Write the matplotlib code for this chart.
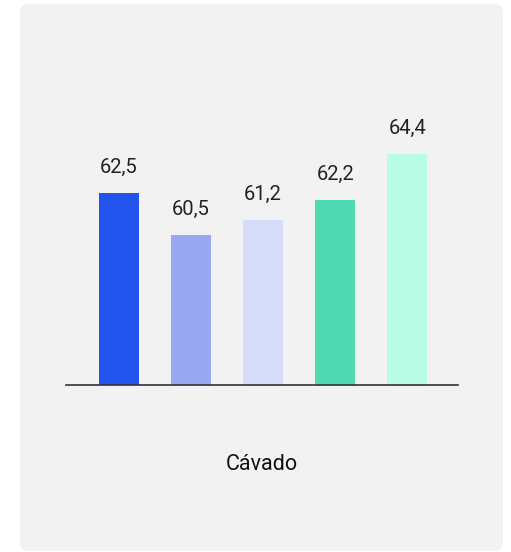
import matplotlib
matplotlib.use("Agg")
import matplotlib.pyplot as plt
from matplotlib.patches import FancyBboxPatch

# Data
region = "Cávado"
series_values = [62.5, 60.5, 61.2, 62.2, 64.4]
bar_colors = ["#2253ec", "#9aa8f4", "#d6ddfa", "#50dab2", "#bafde6"]

plt.rcParams["font.family"] = ["Roboto", "DejaVu Sans"]

fig = plt.figure(figsize=(5.11, 5.52), dpi=100)
fig.patch.set_facecolor("white")

# light gray rounded panel behind everything
panel = FancyBboxPatch((0.26, 0.07), 4.71, 5.35,
                       boxstyle="round,pad=0.06,rounding_size=0.08",
                       transform=fig.dpi_scale_trans,
                       facecolor="#f2f2f2", edgecolor="none", zorder=-1)
fig.patches.append(panel)

ax = fig.add_axes([0.129, 0.3025, 0.767, 0.517])
ax.set_facecolor("none")

x = list(range(len(series_values)))
bars = ax.bar(x, series_values, width=0.555, color=bar_colors, zorder=2)

ax.set_ylim(53.3, 67)
ax.set_xlim(-0.735, 4.70)

for rect, v in zip(bars, series_values):
    ax.annotate(f"{v:.1f}".replace(".", ","),
                (rect.get_x() + rect.get_width() / 2, v),
                xytext=(0, 14.5), textcoords="offset points",
                ha="center", va="baseline", fontsize=14.5, color="#222222")

for side in ["top", "right", "left"]:
    ax.spines[side].set_visible(False)
ax.spines["bottom"].set_color("#333333")
ax.spines["bottom"].set_linewidth(1.2)
ax.spines["bottom"].set_zorder(3)
ax.set_xticks([])
ax.set_yticks([])

fig.text(0.513, 0.158, region, ha="center", va="center",
         fontsize=15.5, color="#111111")

fig.savefig("out.png", dpi=100)
